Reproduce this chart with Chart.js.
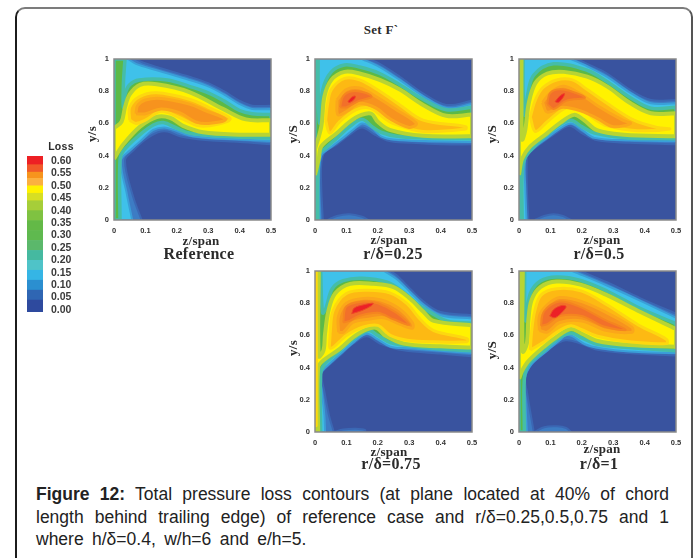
<!DOCTYPE html>
<html>
<head>
<meta charset="utf-8">
<script src="https://cdn.jsdelivr.net/npm/chart.js@4"></script>
<style>
  html, body { margin: 0; background: #fff; overflow: hidden; width: 697px; height: 558px; }
  #frame { position: absolute; left: 15px; top: 7px; width: 674px; height: 600px; box-sizing: content-box;
    border: 2px solid #7c7c7c; border-left-color: #1c1c1c; border-right-color: #555; border-radius: 10px; }
  canvas { position: absolute; filter: blur(0.6px); }
  .lbl { position: absolute; transform: translate(-50%, -50%); white-space: nowrap; color: #2b2b2b; letter-spacing: .3px;
    font-family: "Liberation Serif", serif; font-weight: bold; }
  #caption { position: absolute; left: 36px; top: 483px; width: 633px; color: #222;
    font: 17.5px/22.5px "Liberation Sans", sans-serif; }
  #caption div { text-align: justify; text-align-last: justify; white-space: nowrap; }
  #caption div:last-child { text-align-last: left; word-spacing: 3.5px; }
</style>
</head>
<body>
<div id="frame"></div>
<div id="caption">
  <div><b>Figure 12:</b> Total pressure loss contours (at plane located at 40% of chord</div>
  <div>length behind trailing edge) of reference case and r/δ=0.25,0.5,0.75 and 1</div>
  <div>where h/δ=0.4, w/h=6 and e/h=5.</div>
</div>
<script>
// contour outlines, [z/span, y/s]
const refMid = [[0,0],[.088,0],[.06,.15],[.035,.37],[.06,.43],[.10,.50],[.14,.545],[.17,.55],[.21,.52],[.3,.495],[.4,.485],[.5,.47],[.5,.71],[.44,.71],[.40,.74],[.35,.80],[.30,.85],[.24,.89],[.136,.95],[.09,.98],[.07,1],[0,1]];
const refCyan = [[0,0],[.058,0],[.04,.17],[.022,.37],[.05,.43],[.09,.50],[.125,.56],[.16,.575],[.19,.56],[.24,.525],[.3,.51],[.4,.50],[.5,.49],[.5,.69],[.44,.69],[.40,.72],[.35,.78],[.30,.83],[.24,.87],[.136,.93],[.07,.97],[.045,1],[0,1]];
const refGreen = [[0,0],[.019,0],[.019,.37],[.03,.43],[.083,.53],[.125,.59],[.157,.605],[.2,.57],[.24,.54],[.347,.52],[.5,.51],[.5,.655],[.44,.66],[.40,.68],[.35,.74],[.30,.79],[.24,.83],[.17,.87],[.08,.87],[.05,.84],[.035,.78],[.03,.70],[.03,.85],[.035,1],[0,1]];
const refYellow = [[0,.38],[.03,.47],[.083,.58],[.136,.64],[.178,.635],[.22,.585],[.284,.545],[.4,.53],[.5,.53],[.5,.62],[.42,.625],[.347,.69],[.24,.795],[.136,.843],[.083,.84],[.05,.78],[.035,.70],[.024,.61],[0,.57]];
const refAmber = [[.05,.62],[.05,.70],[.08,.765],[.136,.79],[.24,.75],[.3,.70],[.37,.63],[.33,.595],[.27,.585],[.21,.635],[.15,.675],[.10,.62],[.07,.60]];
const refOrange = [[.07,.66],[.075,.71],[.10,.745],[.15,.755],[.24,.72],[.29,.68],[.355,.625],[.30,.60],[.26,.61],[.21,.665],[.15,.69],[.10,.66]];

const r25Mid = [[0,0],[.025,0],[.02,.2],[.02,.35],[.03,.42],[.07,.47],[.11,.53],[.15,.575],[.19,.53],[.238,.49],[.3,.48],[.4,.47],[.5,.47],[.5,.74],[.418,.715],[.344,.787],[.27,.89],[.206,.97],[.17,1],[0,1]];
const r25Bump = [[.04,0],[.07,.025],[.11,.035],[.15,.02],[.17,0]];
const r25Cyan = [[0,0],[.015,0],[.013,.25],[.02,.40],[.05,.45],[.09,.51],[.125,.565],[.15,.6],[.18,.575],[.21,.52],[.25,.50],[.35,.49],[.5,.485],[.5,.72],[.42,.695],[.344,.77],[.27,.87],[.206,.95],[.15,1],[0,1]];
const r25Green = [[0,0],[.009,0],[.009,.30],[.015,.42],[.03,.44],[.07,.51],[.11,.58],[.15,.625],[.185,.575],[.21,.545],[.26,.52],[.35,.51],[.5,.505],[.5,.70],[.418,.685],[.344,.75],[.27,.84],[.206,.91],[.142,.95],[.094,.963],[.052,.92],[.025,.81],[.015,.60],[.01,.8],[.01,1],[0,1]];
const r25Yellow = [[0,.28],[.012,.38],[.02,.457],[.07,.54],[.11,.61],[.148,.653],[.18,.66],[.2,.61],[.238,.56],[.344,.523],[.5,.52],[.5,.655],[.418,.647],[.344,.715],[.27,.81],[.206,.87],[.142,.91],[.094,.92],[.052,.87],[.03,.767],[.02,.58],[0,.44]];
const r25Amber = [[.034,.62],[.04,.72],[.052,.81],[.094,.88],[.142,.87],[.206,.80],[.27,.715],[.344,.62],[.48,.58],[.48,.565],[.344,.55],[.248,.60],[.216,.64],[.174,.695],[.13,.684],[.078,.61],[.047,.54]];
const r25Orange = [[.07,.745],[.1,.81],[.142,.82],[.195,.766],[.26,.684],[.323,.60],[.30,.575],[.238,.63],[.195,.695],[.142,.725],[.1,.674],[.073,.653]];
const r25Dark = [[.08,.70],[.09,.77],[.12,.80],[.16,.79],[.18,.765],[.14,.74],[.10,.70]];
const r25Red = [[.105,.735],[.115,.76],[.128,.77],[.125,.75],[.11,.73]];

const r50Mid = [[0,0],[.03,0],[.025,.2],[.025,.39],[.03,.41],[.07,.475],[.11,.53],[.16,.585],[.2,.54],[.25,.495],[.35,.48],[.5,.47],[.5,.745],[.42,.745],[.355,.807],[.28,.91],[.217,.97],[.185,1],[0,1]];
const r50Bump = [[.05,0],[.08,.025],[.11,.035],[.14,.025],[.165,0]];
const r50Cyan = [[0,0],[.024,0],[.02,.2],[.02,.38],[.047,.445],[.09,.51],[.125,.56],[.165,.60],[.2,.56],[.24,.51],[.35,.495],[.5,.49],[.5,.725],[.42,.725],[.355,.79],[.28,.89],[.217,.955],[.165,1],[0,1]];
const r50Green = [[0,0],[.01,0],[.01,.3],[.02,.39],[.05,.46],[.09,.53],[.125,.585],[.165,.62],[.2,.58],[.24,.54],[.35,.51],[.5,.505],[.5,.70],[.42,.695],[.355,.76],[.28,.86],[.217,.93],[.11,.97],[.047,.90],[.028,.78],[.018,.65],[.013,.8],[.013,1],[0,1]];
const r50Yellow = [[0,.28],[.01,.38],[.036,.457],[.09,.54],[.132,.605],[.175,.653],[.206,.622],[.25,.556],[.334,.53],[.5,.52],[.5,.663],[.42,.663],[.355,.725],[.28,.83],[.217,.89],[.143,.92],[.09,.91],[.052,.85],[.031,.725],[.02,.56],[.01,.5],[.008,.7],[.008,1],[0,1]];
const r50Amber = [[.036,.64],[.052,.745],[.075,.82],[.12,.87],[.17,.87],[.217,.81],[.28,.725],[.366,.62],[.44,.575],[.48,.565],[.377,.555],[.28,.585],[.238,.63],[.196,.695],[.148,.695],[.09,.61],[.052,.55]];
const r50Orange = [[.075,.73],[.10,.79],[.14,.83],[.19,.79],[.25,.71],[.33,.62],[.355,.6],[.3,.58],[.25,.63],[.2,.675],[.14,.70],[.09,.67]];
const r50Dark = [[.09,.72],[.10,.79],[.14,.81],[.21,.76],[.15,.74],[.11,.69]];
const r50Red = [[.115,.735],[.13,.77],[.145,.785],[.14,.76],[.125,.73]];

const r75Mid = [[0,0],[.06,0],[.045,.1],[.03,.25],[.02,.36],[.032,.393],[.08,.476],[.122,.55],[.165,.594],[.207,.55],[.282,.507],[.4,.487],[.5,.47],[.5,.725],[.4,.745],[.346,.81],[.303,.89],[.26,.973],[.24,1],[0,1]];
const r75Bump = [[.06,0],[.09,.015],[.13,.02],[.16,.012],[.155,0]];
const r75Cyan = [[0,0],[.032,0],[.03,.1],[.022,.25],[.018,.36],[.05,.43],[.09,.5],[.125,.56],[.165,.61],[.2,.575],[.24,.53],[.3,.52],[.4,.505],[.5,.49],[.5,.705],[.4,.725],[.346,.79],[.303,.87],[.26,.95],[.22,1],[0,1]];
const r75Green = [[0,0],[.018,0],[.018,.36],[.03,.42],[.07,.49],[.11,.56],[.17,.63],[.2,.60],[.24,.555],[.3,.535],[.4,.515],[.5,.505],[.5,.675],[.42,.69],[.37,.74],[.33,.79],[.28,.87],[.23,.93],[.15,.955],[.09,.94],[.055,.89],[.035,.77],[.024,.74],[.018,1],[0,1]];
const r75Yellow = [[0,0],[.01,0],[.01,.4],[.027,.445],[.08,.518],[.122,.59],[.165,.638],[.197,.646],[.223,.6],[.282,.549],[.4,.532],[.5,.525],[.5,.662],[.378,.69],[.346,.745],[.303,.828],[.25,.9],[.186,.92],[.112,.92],[.064,.86],[.043,.755],[.032,.61],[.027,.507],[.012,.47],[.012,1],[0,1]];
const r75Wall = [[0,.04],[.004,.04],[.004,1],[0,1]];
const r75Amber = [[.048,.61],[.05,.52],[.10,.6],[.154,.652],[.2,.662],[.24,.6],[.293,.57],[.378,.56],[.484,.56],[.484,.58],[.378,.63],[.335,.70],[.293,.797],[.24,.863],[.165,.88],[.10,.86],[.058,.755]];
const r75Orange = [[.075,.62],[.075,.72],[.1,.8],[.155,.83],[.21,.82],[.265,.77],[.31,.68],[.31,.645],[.27,.67],[.22,.71],[.17,.70],[.12,.68],[.09,.62]];
const r75Dark = [[.09,.68],[.1,.78],[.155,.81],[.2,.80],[.26,.74],[.3,.665],[.25,.70],[.2,.74],[.14,.72],[.11,.69]];
const r75Red = [[.117,.735],[.125,.77],[.155,.79],[.185,.8],[.18,.785],[.15,.755]];

const r100Mid = [[0,0],[.047,0],[.026,.24],[.02,.34],[.047,.445],[.1,.524],[.148,.57],[.196,.55],[.25,.51],[.35,.49],[.5,.475],[.5,.735],[.387,.83],[.28,.93],[.196,1],[0,1]];
const r100Bump = [[.05,0],[.08,.03],[.12,.035],[.15,.025],[.165,0]];
const r100Cyan = [[0,0],[.025,0],[.02,.2],[.018,.33],[.04,.42],[.09,.505],[.13,.57],[.148,.60],[.17,.595],[.21,.545],[.26,.52],[.35,.5],[.5,.49],[.5,.71],[.387,.815],[.28,.91],[.17,1],[0,1]];
const r100Green = [[0,0],[.017,0],[.017,.33],[.03,.42],[.08,.505],[.12,.575],[.165,.615],[.2,.585],[.25,.545],[.35,.525],[.5,.505],[.5,.673],[.387,.766],[.28,.876],[.196,.942],[.12,.963],[.068,.938],[.036,.86],[.022,.69],[.018,.8],[.018,1],[0,1]];
const r100Yellow = [[0,.33],[.01,.38],[.03,.44],[.08,.53],[.12,.59],[.165,.64],[.2,.61],[.25,.565],[.35,.54],[.5,.53],[.5,.64],[.387,.745],[.28,.85],[.196,.915],[.12,.935],[.068,.90],[.04,.82],[.03,.7],[.025,.55],[.012,.5],[.012,1],[0,1]];
const r100Amber = [[.036,.51],[.08,.56],[.12,.62],[.165,.66],[.2,.635],[.25,.595],[.35,.56],[.47,.55],[.47,.575],[.38,.665],[.28,.79],[.2,.875],[.12,.89],[.07,.85],[.05,.75],[.04,.62]];
const r100Orange = [[.065,.63],[.065,.72],[.09,.79],[.13,.835],[.2,.81],[.28,.74],[.36,.65],[.36,.62],[.28,.63],[.2,.69],[.13,.68],[.09,.62]];
const r100Dark = [[.07,.66],[.08,.75],[.13,.81],[.19,.78],[.27,.7],[.34,.635],[.27,.655],[.2,.72],[.13,.72],[.09,.67]];
const r100Red = [[.098,.72],[.11,.76],[.135,.785],[.15,.78],[.14,.75],[.115,.71]];

const zTicks = [0, .1, .2, .3, .4, .5];
const lossEdges = [-.008,.04,.08,.12,.16,.2,.24,.28,.32,.36,.40,.44,.47,.5,.53,.555,.585,.62];
const lossColors = ['#2e4a9e','#2f66b3','#2b8fd0','#35b5e5','#4fc3c8','#45b9a0','#5bb86b','#5fb94f','#63b947','#7fc241','#a6ce39','#d7df23','#fff200','#fbb040','#f7941d','#f15a29','#ed2024'];

const levelStyle = {
  mid:    { fill: '#3d7cc4', border: '#3b67b4', width: 2 },
  cyan:   { fill: '#3fc1ea', border: '#3a9fd8', width: 2 },
  green:  { fill: '#5bb947', border: '#45bda8', width: 3.5 },
  yellow: { fill: '#fff200', border: '#b8d433', width: 4 },
  amber:  { fill: '#fdb913', border: '#fdd80f', width: 3 },
  orange: { fill: '#f7931e', border: '#fba71a', width: 3 },
  dark:   { fill: '#f2702a', border: '#f58420', width: 2 },
  red:    { fill: '#ec2027', border: '#ee4a25', width: 1 },
};

const panels = [
  { x: 114, y: 59, layers: [['mid',refMid],['cyan',refCyan],['green',refGreen],['yellow',refYellow],['amber',refAmber],['orange',refOrange]] },
  { x: 315, y: 59, layers: [['mid',r25Mid],['mid',r25Bump],['cyan',r25Cyan],['green',r25Green],['yellow',r25Yellow],['amber',r25Amber],['orange',r25Orange],['dark',r25Dark],['red',r25Red]] },
  { x: 519, y: 59, layers: [['mid',r50Mid],['mid',r50Bump],['cyan',r50Cyan],['green',r50Green],['yellow',r50Yellow],['amber',r50Amber],['orange',r50Orange],['dark',r50Dark],['red',r50Red]] },
  { x: 315, y: 271, layers: [['mid',r75Mid],['mid',r75Bump],['cyan',r75Cyan],['green',r75Green],['yellow',r75Yellow],['amber',r75Wall],['amber',r75Amber],['orange',r75Orange],['dark',r75Dark],['red',r75Red]] },
  { x: 519, y: 271, layers: [['mid',r100Mid],['mid',r100Bump],['cyan',r100Cyan],['green',r100Green],['yellow',r100Yellow],['amber',r100Amber],['orange',r100Orange],['dark',r100Dark],['red',r100Red]] },
];

// text, x, y, px, rotated
const labels = [
  ['Set F`', 381, 30, 13],
  ['Loss', 61, 146, 10.5],
  ['y/s', 92, 134, 13, true], ['z/span', 201, 241, 13], ['Reference', 199, 254, 16],
  ['y/S', 293, 134, 13, true], ['z/span', 389, 240, 13], ['r/δ=0.25', 393, 254, 16],
  ['y/S', 492, 134, 13, true], ['z/span', 602, 240, 13], ['r/δ=0.5', 599, 254, 16],
  ['y/s', 293, 348, 13, true], ['z/span', 389, 452, 13], ['r/δ=0.75', 391, 464, 16],
  ['y/S', 492, 350, 13, true], ['z/span', 602, 449, 13], ['r/δ=1', 599, 464, 16],
];

const plotW = 157, plotH = 161, gutterL = 22, gutterB = 16, padT = 6, padR = 10;

const plotArea = {
  id: 'plotArea',
  beforeDatasetsDraw(chart) {
    const a = chart.chartArea;
    chart.ctx.fillStyle = '#39539f';
    chart.ctx.fillRect(a.left, a.top, a.width, a.height);
  },
  afterDraw(chart) {
    const a = chart.chartArea, ctx = chart.ctx;
    ctx.strokeStyle = '#8a8a8a';
    ctx.lineWidth = 1.5;
    ctx.strokeRect(a.left, a.top, a.width, a.height);
  },
};

const onEdge = ([z, y]) => z === 0 || z === .5 || y === 0 || y === 1;

function toDataset([level, pts], i) {
  const st = levelStyle[level];
  // points on the plot edge are doubled so the spline keeps its corner there
  const data = pts.concat([pts[0]]).flatMap(p => (onEdge(p) ? [p, p] : [p])).map(([x, y]) => ({ x, y }));
  return {
    data, showLine: true, fill: 'shape', tension: .35, clip: 0, pointRadius: 0,
    backgroundColor: st.fill, borderColor: st.border, borderWidth: st.width, order: 100 - i,
  };
}

const tickFont = { family: 'Liberation Sans', size: 7.5, weight: 'bold' };
const shortTick = v => String(+(+v).toFixed(1));

// pin a scale's box so the plot area lands where it should, tick labels don't push it in
function pinBox(s, size) {
  if (s.isHorizontal()) s.height = size; else s.width = size;
  s.paddingLeft = s.paddingRight = s.paddingTop = s.paddingBottom = 0;
}

function addCanvas(left, top, width, height) {
  const canvas = document.createElement('canvas');
  canvas.width = width;
  canvas.height = height;
  canvas.style.left = left + 'px';
  canvas.style.top = top + 'px';
  document.body.appendChild(canvas);
  return canvas.getContext('2d');
}

panels.forEach((p) => {
  const ctx = addCanvas(p.x - gutterL, p.y - padT, gutterL + plotW + padR, padT + plotH + gutterB);
  new Chart(ctx, {
    type: 'scatter',
    data: { datasets: p.layers.map(toDataset) },
    plugins: [plotArea],
    options: {
      responsive: false,
      animation: false,
      layout: { padding: { top: padT, right: padR } },
      plugins: { legend: { display: false }, tooltip: { enabled: false } },
      scales: {
        x: {
          min: 0, max: .5,
          afterFit: (s) => pinBox(s, gutterB),
          afterBuildTicks: (s) => { s.ticks = zTicks.map(value => ({ value })); },
          grid: { display: false, drawTicks: false },
          border: { display: false },
          ticks: { font: tickFont, color: '#333', padding: 6, maxRotation: 0, autoSkip: false, callback: shortTick },
        },
        y: {
          min: 0, max: 1,
          afterFit: (s) => pinBox(s, gutterL),
          grid: { display: false, drawTicks: false },
          border: { display: false },
          ticks: { font: tickFont, color: '#333', padding: 5, stepSize: .2, callback: shortTick },
        },
      },
    },
  });
});

// colour key
new Chart(addCanvas(27, 150, 62, 168), {
  type: 'bar',
  data: {
    labels: ['Loss'],
    datasets: lossColors.map((c, i) => ({
      data: [[lossEdges[i], lossEdges[i + 1]]],
      backgroundColor: c, grouped: false, barPercentage: 1, categoryPercentage: 1,
    })),
  },
  options: {
    responsive: false,
    animation: false,
    layout: { padding: { top: 6, bottom: 6 } },
    plugins: { legend: { display: false }, tooltip: { enabled: false } },
    scales: {
      x: { display: false },
      y: {
        position: 'right', min: -.008, max: .62,
        afterFit: (s) => pinBox(s, 46),
        grid: { display: false, drawTicks: false },
        border: { display: false },
        ticks: {
          includeBounds: false, stepSize: .05, padding: 8, color: '#3a3a3a', autoSkip: false,
          font: { family: 'Liberation Sans', size: 10.5, weight: 'bold' },
          callback: v => (+v).toFixed(2),
        },
      },
    },
  },
});

labels.forEach(([text, x, y, size, rotated]) => {
  const el = document.createElement('div');
  el.className = 'lbl';
  el.textContent = text;
  el.style.left = x + 'px';
  el.style.top = y + 'px';
  el.style.fontSize = size + 'px';
  if (text === 'Loss') el.style.fontFamily = '"Liberation Sans", sans-serif';
  if (rotated) el.style.transform = 'translate(-50%, -50%) rotate(-90deg)';
  document.body.appendChild(el);
});
</script>
</body>
</html>
